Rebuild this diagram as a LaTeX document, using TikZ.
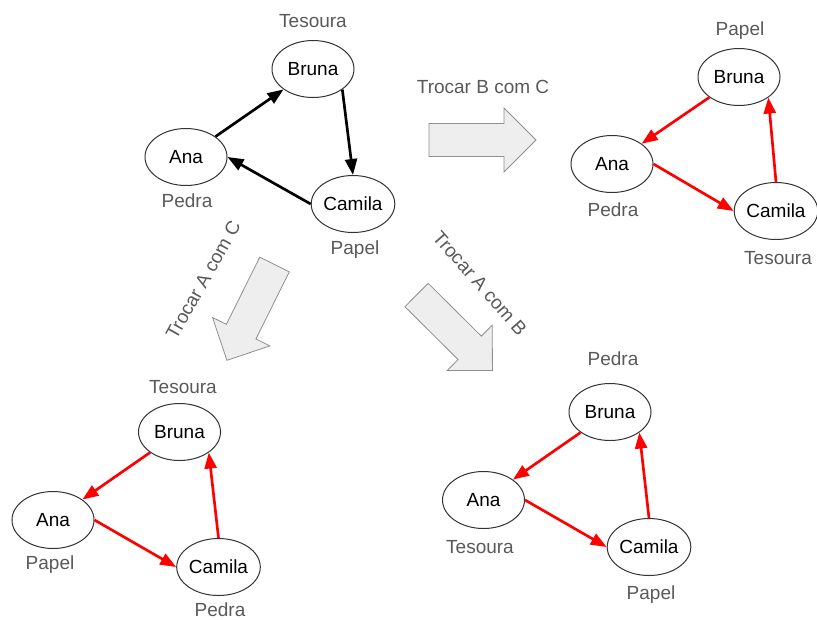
\documentclass[tikz,border=0pt]{standalone}
\usepackage{fontspec}
\setmainfont{Liberation Sans}
\usetikzlibrary{arrows.meta,shapes.geometric}
\definecolor{Muted}{HTML}{595959}
\definecolor{Rim}{HTML}{333333}
\definecolor{SwapLine}{HTML}{8F8F8F}
\definecolor{SwapFill}{HTML}{EEEEEE}
\definecolor{Swapped}{HTML}{FF0000}

\begin{document}
\begin{tikzpicture}[x=0.75pt,y=-0.75pt,
  kid/.style={ellipse,draw=Rim,fill=white,line width=0.75pt,minimum width=61.5pt,minimum height=42.75pt,inner sep=0pt,font=\fontsize{14.25}{17}\selectfont,text height=10pt,text depth=0pt},
  hand/.style={text=Muted,inner sep=0pt,font=\fontsize{14.25}{17}\selectfont,text height=10pt,text depth=0pt},
  beats/.style={draw=black,line width=2pt,-{Triangle[length=12pt,width=9pt]}},
  beatsnew/.style={beats,draw=Swapped},
  swap/.style={draw=SwapLine,fill=SwapFill,line width=0.6pt}
]
\useasboundingbox (0,0) rectangle (817,619);

% starting round
\node[kid] (a1) at (186,157) {Ana};
\node[kid] (b1) at (313,69) {Bruna};
\node[kid] (c1) at (353,204) {Camila};
\node[hand] (ha1) at (187,201) {Pedra};
\node[hand] (hb1) at (313,21) {Tesoura};
\node[hand] (hc1) at (355,248) {Papel};
\draw[beats] (a1) -- (b1);
\draw[beats] (b1.325) -- (c1.north);
\draw[beats] (c1.west) -- (a1.east);

% swap B and C
\node[kid] (a2) at (612,164) {Ana};
\node[kid] (b2) at (739,77) {Bruna};
\node[kid] (c2) at (776,211) {Camila};
\node[hand] (ha2) at (613,210) {Pedra};
\node[hand] (hb2) at (740,29) {Papel};
\node[hand] (hc2) at (778,258) {Tesoura};
\draw[beatsnew] (b2) -- (a2);
\draw[beatsnew] (a2.east) -- (c2.west);
\draw[beatsnew] (c2.north) -- (b2.325);

% swap A and C
\node[kid] (a3) at (53,520) {Ana};
\node[kid] (b3) at (179.5,432) {Bruna};
\node[kid] (c3) at (218.5,567) {Camila};
\node[hand] (ha3) at (50,563) {Papel};
\node[hand] (hb3) at (183,387) {Tesoura};
\node[hand] (hc3) at (220,610) {Pedra};
\draw[beatsnew] (b3) -- (a3);
\draw[beatsnew] (a3.east) -- (c3.west);
\draw[beatsnew] (c3.north) -- (b3.325);

% swap A and B
\node[kid] (a4) at (483.5,500) {Ana};
\node[kid] (b4) at (610,412) {Bruna};
\node[kid] (c4) at (649,547) {Camila};
\node[hand] (ha4) at (480,547) {Tesoura};
\node[hand] (hb4) at (613,359) {Pedra};
\node[hand] (hc4) at (651,593) {Papel};
\draw[beatsnew] (b4) -- (a4);
\draw[beatsnew] (a4.east) -- (c4.west);
\draw[beatsnew] (c4.north) -- (b4.325);

% block arrows between rounds
\foreach \x/\y/\r in {429/140/0, 274.5/264.5/-116.4, 416.5/295/-44.8}{
  \begin{scope}[shift={(\x,\y)},rotate=\r]
    \draw[swap] (0,-16.5) -- (75,-16.5) -- (75,-32) -- (107,0) -- (75,32) -- (75,16.5) -- (0,16.5) -- cycle;
  \end{scope}
}
\node[hand] (tbc) at (483,87) {Trocar B com C};
\node[hand,rotate=60.6] (tac) at (203,280) {Trocar A com C};
\node[hand,rotate=-48.7] (tab) at (480,283) {Trocar A com B};
\end{tikzpicture}
\end{document}
